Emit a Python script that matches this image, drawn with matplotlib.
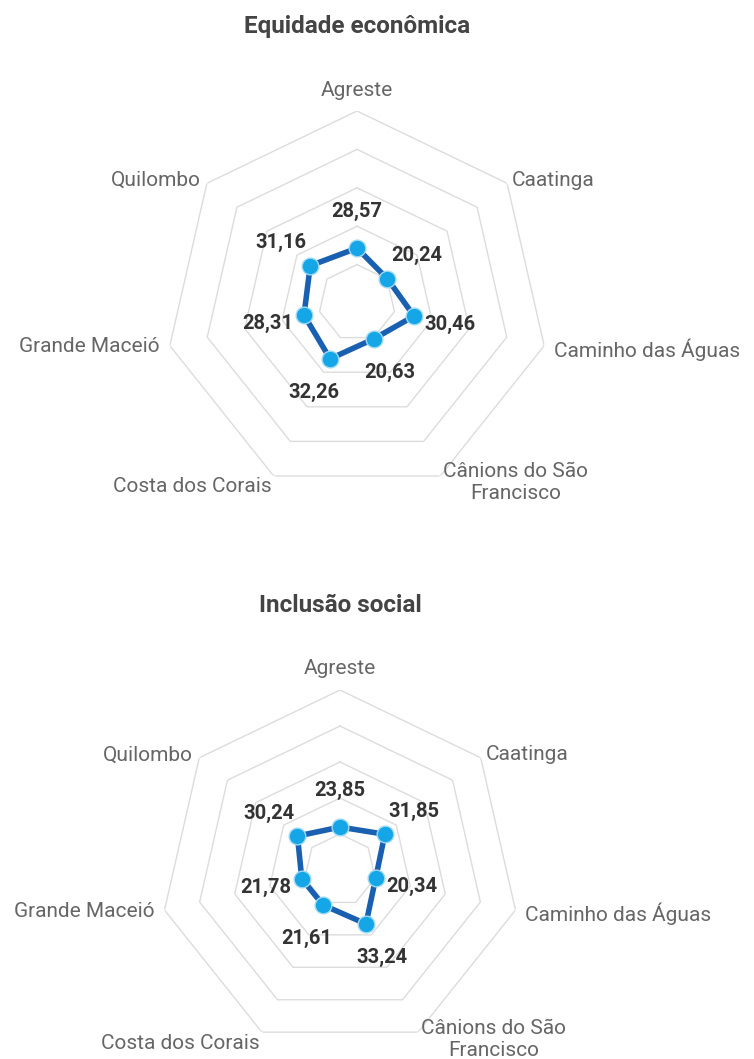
import matplotlib.pyplot as plt
import numpy as np

plt.rcParams['font.family'] = ['Roboto', 'DejaVu Sans']

regions = ['Agreste', 'Caatinga', 'Caminho das Águas', 'Cânions do São\nFrancisco',
           'Costa dos Corais', 'Grande Maceió', 'Quilombo']
equidade = [28.57, 20.24, 30.46, 20.63, 32.26, 28.31, 31.16]
inclusao = [23.85, 31.85, 20.34, 33.24, 21.61, 21.78, 30.24]
rings = [20, 40, 60, 80, 100]

W, H = 754, 1059

# offset (px) and alignment of each category label from its outer vertex
label_pos = [(0, 21, 'center', 'center'),
             (5, 3, 'left', 'center'),
             (10, -4, 'left', 'center'),
             (3, -7, 'left', 'center'),
             (-2, -11, 'right', 'center'),
             (-10, -1, 'right', 'center'),
             (-6, 3, 'right', 'center')]


def fmt(v):
    return '{:.2f}'.format(v).replace('.', ',')


def radar(fig, cx, cy, radius, title, title_y, values):
    ax = fig.add_axes([(cx - radius) / W, (H - cy - radius) / H,
                       2 * radius / W, 2 * radius / H], projection='polar')
    ax.set_theta_offset(np.pi / 2)
    ax.set_theta_direction(-1)
    ax.set_ylim(0, 100)
    ax.grid(False)
    ax.spines['polar'].set_visible(False)
    ax.set_xticks([])
    ax.set_yticks([])

    n = len(regions)
    ang = np.arange(n) * 2 * np.pi / n
    closed = np.append(ang, ang[0])
    for r in rings:
        ax.plot(closed, [r] * (n + 1), color='#dcdcdc', lw=1, zorder=1)

    vals = np.append(values, values[0])
    ax.plot(closed, vals, color='#1a60b0', lw=4, zorder=3, solid_joinstyle='round')
    ax.plot(ang, values, 'o', ms=12, mfc='#14a6e6', mec='#9dd9f5', mew=1, zorder=4)

    for a, v in zip(ang, values):
        phi = np.pi / 2 - a
        ax.annotate(fmt(v), (a, v), xytext=(37 * np.cos(phi), 37 * np.sin(phi)),
                    textcoords='offset pixels', ha='center', va='center',
                    fontsize=14.5, fontweight='bold', color='#333333',
                    annotation_clip=False, zorder=5)

    for a, name, (dx, dy, ha, va) in zip(ang, regions, label_pos):
        ax.annotate(name, (a, 100), xytext=(dx, dy), textcoords='offset pixels',
                    ha=ha, va=va, multialignment='center', fontsize=15,
                    color='#666666', annotation_clip=False)

    fig.text(cx / W, 1 - title_y / H, title, ha='center', va='center',
             fontsize=17.5, fontweight='bold', color='#444444')


fig = plt.figure(figsize=(W / 100, H / 100), dpi=100)
radar(fig, 357, 303, 192, 'Equidade econômica', 27, equidade)
radar(fig, 340, 870, 180, 'Inclusão social', 605, inclusao)
fig.savefig('out.png', dpi=100, facecolor='white')
